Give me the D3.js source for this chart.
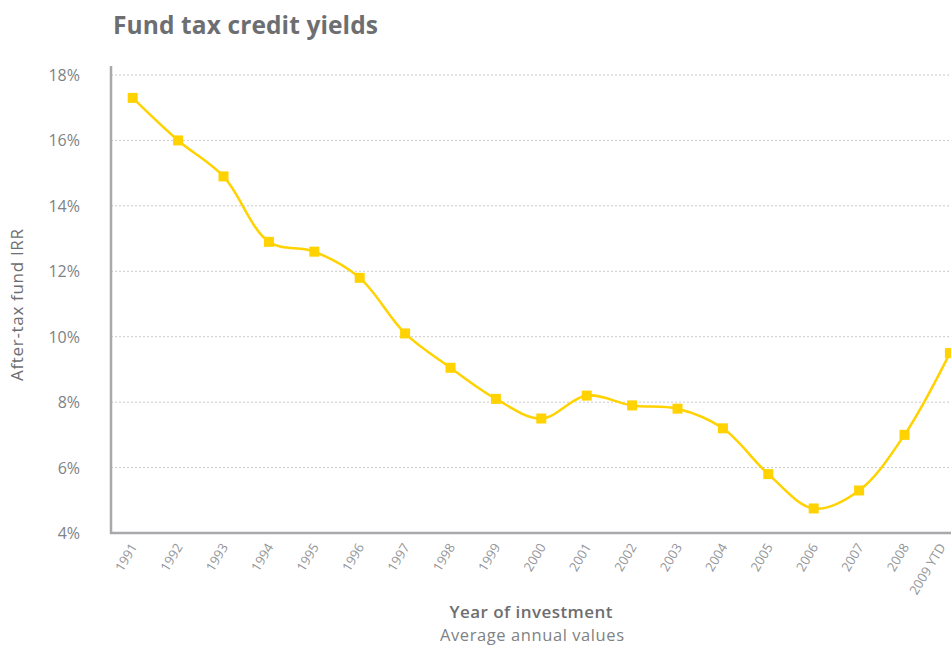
<!DOCTYPE html>
<html>
<head>
<meta charset="utf-8">
<script src="https://cdn.jsdelivr.net/npm/d3@7"></script>
<style>
  html, body { margin: 0; padding: 0; background: #fff; }
  svg { display: block; }
  text { font-family: "Open Sans", "DejaVu Sans", sans-serif; }
</style>
</head>
<body>
<svg id="chart" width="951" height="645"></svg>
<script>
// Investment years and after-tax fund IRR (%)
const years = ["1991","1992","1993","1994","1995","1996","1997","1998","1999","2000",
               "2001","2002","2003","2004","2005","2006","2007","2008","2009 YTD"];
const irr = [17.3, 16.0, 14.9, 12.9, 12.6, 11.8, 10.1, 9.05, 8.1, 7.5,
             8.2, 7.9, 7.8, 7.2, 5.8, 4.75, 5.3, 7.0, 9.5];
const yTicks = [4, 6, 8, 10, 12, 14, 16, 18];

const svg = d3.select("#chart");
const W = 951, H = 645;
const plotLeft = 111, plotTop = 75, plotBottom = 533;

const x = d3.scaleBand().domain(years).range([110, 110 + years.length * 45.4]);
const y = d3.scaleLinear().domain([4, 18]).range([plotBottom, plotTop]);
const cx = d => x(d) + x.bandwidth() / 2;

const gray = "#6d6e71";
const yellow = "#ffd200";

// Title
svg.append("text")
  .attr("x", 113).attr("y", 34)
  .attr("font-size", 24.5).attr("font-weight", 700)
  .attr("fill", gray)
  .attr("textLength", 265).attr("lengthAdjust", "spacing")
  .text("Fund tax credit yields");

// Dotted horizontal gridlines
svg.append("g").selectAll("line")
  .data(yTicks.filter(d => d > 4))
  .join("line")
  .attr("x1", plotLeft).attr("x2", W)
  .attr("y1", d => y(d)).attr("y2", d => y(d))
  .attr("stroke", "#c9c9c9").attr("stroke-width", 1)
  .attr("stroke-dasharray", "2,2");

// Y tick labels
svg.append("g").selectAll("text")
  .data(yTicks)
  .join("text")
  .attr("x", 80).attr("y", d => y(d) + 6)
  .attr("text-anchor", "end")
  .attr("font-size", 16).attr("fill", "#808285")
  .text(d => d + "%");

// Axis lines
svg.append("line")
  .attr("x1", plotLeft).attr("x2", plotLeft).attr("y1", 66).attr("y2", plotBottom + 1)
  .attr("stroke", "#a7a9ac").attr("stroke-width", 2.5);
svg.append("line")
  .attr("x1", plotLeft - 1).attr("x2", W).attr("y1", plotBottom).attr("y2", plotBottom)
  .attr("stroke", "#a7a9ac").attr("stroke-width", 2.5);

// X tick labels, rotated; the last one is kept inside the right edge
svg.append("g").selectAll("text")
  .data(years)
  .join("text")
  .attr("transform", d => `translate(${Math.min(cx(d) + 5, 946)},${plotBottom + 14}) rotate(-59)`)
  .attr("text-anchor", "end")
  .attr("font-size", 13).attr("fill", "#939598")
  .text(d => d);

// Axis titles
svg.append("text")
  .attr("transform", `translate(23,305) rotate(-90)`)
  .attr("text-anchor", "middle")
  .attr("font-size", 17).attr("fill", gray)
  .attr("textLength", 152).attr("lengthAdjust", "spacing")
  .text("After-tax fund IRR");

svg.append("text")
  .attr("x", 531).attr("y", 618)
  .attr("text-anchor", "middle")
  .attr("font-size", 17).attr("font-weight", 600).attr("fill", gray)
  .attr("textLength", 163).attr("lengthAdjust", "spacing")
  .text("Year of investment");

svg.append("text")
  .attr("x", 532).attr("y", 641)
  .attr("text-anchor", "middle")
  .attr("font-size", 16.5).attr("fill", "#808285")
  .attr("textLength", 184).attr("lengthAdjust", "spacing")
  .text("Average annual values");

// Smoothed line
const data = years.map((yr, i) => ({ yr, v: irr[i] }));
const line = d3.line()
  .x(d => cx(d.yr))
  .y(d => y(d.v))
  .curve(d3.curveCatmullRom.alpha(0.5));

svg.append("path")
  .datum(data)
  .attr("d", line)
  .attr("fill", "none")
  .attr("stroke", yellow)
  .attr("stroke-width", 2.5);

// Square markers
const s = 10;
svg.append("g").selectAll("rect")
  .data(data)
  .join("rect")
  .attr("x", d => cx(d.yr) - s / 2)
  .attr("y", d => y(d.v) - s / 2)
  .attr("width", s).attr("height", s)
  .attr("fill", yellow);
</script>
</body>
</html>
